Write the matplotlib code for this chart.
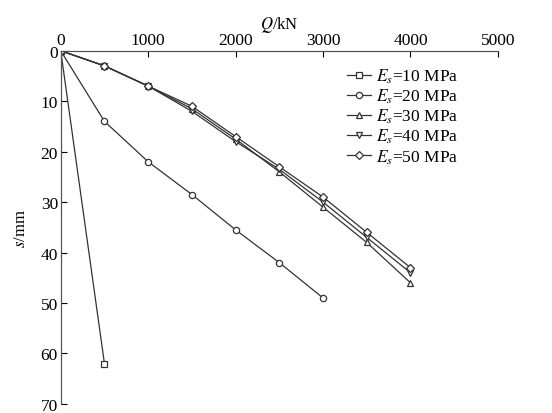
import matplotlib
matplotlib.use('Agg')
import matplotlib.pyplot as plt

plt.rcParams['font.family'] = ['Liberation Serif', 'DejaVu Serif']
plt.rcParams['mathtext.fontset'] = 'stix'

# load Q (kN) and settlement s (mm) for each soil modulus
q_10 = [0, 500]
s_10 = [0, 62]
q_20 = [0, 500, 1000, 1500, 2000, 2500, 3000]
s_20 = [0, 14, 22, 28.5, 35.5, 42, 49]
q_30 = [0, 500, 1000, 1500, 2000, 2500, 3000, 3500, 4000]
s_30 = [0, 3, 7, 11.5, 17.5, 24, 31, 38, 46]
q_40 = [0, 500, 1000, 1500, 2000, 2500, 3000, 3500, 4000]
s_40 = [0, 3, 7, 12, 18, 23.5, 30, 37, 44]
q_50 = [0, 500, 1000, 1500, 2000, 2500, 3000, 3500, 4000]
s_50 = [0, 3, 7, 11, 17, 23, 29, 36, 43]

labels = [r'$E_s$=10 MPa', r'$E_s$=20 MPa', r'$E_s$=30 MPa',
          r'$E_s$=40 MPa', r'$E_s$=50 MPa']

fig = plt.figure(figsize=(5.52, 4.14), dpi=100)
ax = fig.add_axes([0.11, 0.022, 0.792, 0.853])

series = [(q_10, s_10, 's'), (q_20, s_20, 'o'), (q_30, s_30, '^'),
          (q_40, s_40, 'v'), (q_50, s_50, 'D')]
for (q, s, m), lab in zip(series, labels):
    ax.plot(q, s, color='#333333', lw=0.9, marker=m, ms=4.5 if m != 'D' else 4,
            mfc='white', mec='#333333', mew=0.9, label=lab)

ax.set_xlim(0, 5000)
ax.set_ylim(70, 0)
ax.xaxis.tick_top()
ax.xaxis.set_label_position('top')
ax.set_xticks([0, 1000, 2000, 3000, 4000, 5000])
ax.set_yticks(range(0, 71, 10))
ax.tick_params(direction='in', length=4, width=0.8, labelsize=12.5, pad=2)
ax.set_xlabel(r'$Q$/kN', fontsize=12, labelpad=3)
ax.set_ylabel(r'$s$/mm', fontsize=12, labelpad=8)
for side in ['right', 'bottom']:
    ax.spines[side].set_visible(False)
for side in ['top', 'left']:
    ax.spines[side].set_color('#555555')
    ax.spines[side].set_linewidth(0.9)

ax.legend(loc='upper right', bbox_to_anchor=(0.91, 0.955), frameon=False,
          fontsize=12.5, handlelength=1.4, handletextpad=0.3, labelspacing=0.1,
          borderpad=0, borderaxespad=0)

fig.savefig('out.png', dpi=100)
